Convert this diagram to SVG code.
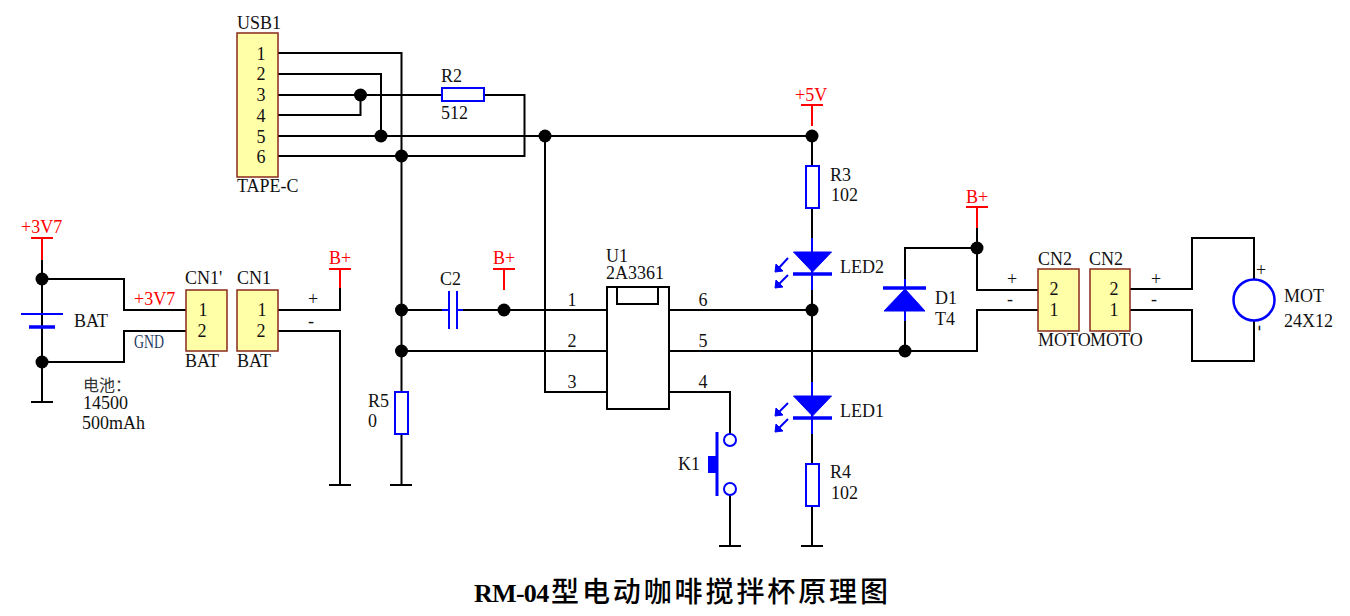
<svg xmlns="http://www.w3.org/2000/svg" width="1350" height="616" viewBox="0 0 1350 616">
<defs>
<style>
text{font-family:"Liberation Serif","Noto Sans CJK SC",serif;font-size:18px;fill:#111}
.c{text-anchor:middle}
.r{fill:#f00}
.w{fill:none;stroke:#000;stroke-width:2}
.b{fill:none;stroke:#00f;stroke-width:2}
.bb{fill:#00f;stroke:#00f;stroke-width:1}
.rl{fill:none;stroke:#f00;stroke-width:2}
.box{fill:#ffffa8;stroke:#8b2a1a;stroke-width:1.500}
.res{fill:#fff;stroke:#00f;stroke-width:2}
.u{fill:#fff;stroke:#000;stroke-width:2}
.s{font-size:18px}
.cn{font-family:"Noto Sans CJK SC",serif}
</style>
</defs>
<rect width="1350" height="616" fill="#fff"/>
<g id="connectors" class="w">
<path class="w" d="M278,53H401.500V485"/>
<path class="w" d="M278,74H381V136"/>
<path class="w" d="M278,95H442M484,95H524.500V156H278"/>
<path class="w" d="M278,115H360.500V95"/>
<path class="w" d="M278,136H812"/>
<path class="w" d="M545,136V392H607"/>
<path class="w" d="M401.500,310H449M457,310H607"/>
<path class="w" d="M401.500,351H607"/>
<path class="w" d="M669,310H812"/>
<path class="w" d="M669,351H977V310H1038"/>
<path class="w" d="M669,392H730V434"/>
<path class="w" d="M730,495V546"/>
<path class="w" d="M812,136V252M812,272V396M812,416V546"/>
<path class="w" d="M905,351V248H977"/>
<path class="w" d="M977,228V290H1038"/>
<path class="w" d="M1130,289H1192V238H1254V279"/>
<path class="w" d="M1130,310H1192V361H1254V321"/>
<path class="w" d="M42,260V402"/>
<path class="w" d="M42,279H124V310H186"/>
<path class="w" d="M42,362H124V331H186"/>
<path class="w" d="M278,310H340V288"/>
<path class="w" d="M278,331H340V485"/>
<path class="w" d="M31,402H53M329,485H351M390,485H412M719,546H741M801,546H823"/>
<path class="rl" d="M42,260V238M31,238H53M340,288V269M329,269H351M504,290V269M493,269H515M812,126V105M801,105H823M977,228V207M966,207H988"/>
<g fill="#000" stroke="none">
<circle cx="42" cy="279" r="6.500"/><circle cx="42" cy="362" r="6.500"/>
<circle cx="360.500" cy="95" r="6.500"/><circle cx="381" cy="136" r="6.500"/>
<circle cx="401.500" cy="156" r="6.500"/><circle cx="545" cy="136" r="6.500"/>
<circle cx="812" cy="136" r="6.500"/><circle cx="401.500" cy="310" r="6.500"/>
<circle cx="401.500" cy="351" r="6.500"/><circle cx="504" cy="310" r="6.500"/>
<circle cx="812" cy="310" r="6.500"/><circle cx="905" cy="351" r="6.500"/>
<circle cx="977" cy="248" r="6.500"/>
</g>
</g>
<g id="BAT"><path class="b" d="M21,314H63"/><path d="M29,327H55" fill="none" stroke="#00f" stroke-width="3.500"/>
<text x="74" y="327">BAT</text>
<text x="83" y="391" class="cn" style="font-size:16px;fill:#333">电池：</text>
<text x="83" y="409">14500</text><text x="82" y="429">500mAh</text></g>
<g id="net-labels">
<text x="21" y="233" class="r">+3V7</text>
<text x="134" y="305" class="r">+3V7</text>
<text x="134" y="348" textLength="30" lengthAdjust="spacingAndGlyphs" style="fill:#1f3a5f">GND</text>
<text x="329" y="264" class="r">B+</text>
<text x="493" y="264" class="r">B+</text>
<text x="795" y="101" class="r">+5V</text>
<text x="966" y="203" class="r">B+</text>
<text x="313" y="305" class="c s">+</text><text x="311" y="327" class="c s">-</text>
<text x="1012" y="285" class="c s">+</text><text x="1010" y="305" class="c s">-</text>
<text x="1156" y="285" class="c s">+</text><text x="1154" y="305" class="c s">-</text>
</g>
<g id="CN1p"><rect class="box" x="186" y="290" width="41" height="61"/>
<text x="185" y="284">CN1'</text><text x="203" y="316" class="c">1</text><text x="202" y="337" class="c">2</text><text x="185" y="367">BAT</text></g>
<g id="CN1"><rect class="box" x="237" y="290" width="41" height="61"/>
<text x="237" y="284">CN1</text><text x="262" y="316" class="c">1</text><text x="261" y="337" class="c">2</text><text x="237" y="367">BAT</text></g>
<g id="USB1"><rect class="box" x="237" y="33" width="41" height="144"/>
<text x="237" y="29">USB1</text>
<text x="261" y="60" class="c">1</text><text x="261" y="80" class="c">2</text><text x="261" y="101" class="c">3</text><text x="261" y="122" class="c">4</text><text x="261" y="143" class="c">5</text><text x="261" y="163" class="c">6</text>
<text x="237" y="192">TAPE-C</text></g>
<g id="R2"><rect class="res" x="442" y="88" width="42" height="13"/><text x="441" y="82">R2</text><text x="441" y="119">512</text></g>
<g id="C2"><path class="b" d="M442,310H449M457,310H463M449,291V329M457,291V329"/><text x="440" y="285">C2</text></g>
<g id="R5"><rect class="res" x="395" y="392" width="13" height="42"/><text x="368" y="407">R5</text><text x="368" y="427">0</text></g>
<g id="U1"><rect class="u" x="607" y="287" width="62" height="122"/><path class="w" d="M617,287V304H658V287"/>
<text x="606" y="262">U1</text><text x="606" y="279">2A3361</text>
<text x="572" y="306" class="c">1</text><text x="572" y="347" class="c">2</text><text x="572" y="388" class="c">3</text>
<text x="703" y="306" class="c">6</text><text x="703" y="347" class="c">5</text><text x="703" y="388" class="c">4</text></g>
<g id="K1"><circle class="b" cx="730" cy="440" r="6"/><circle class="b" cx="730" cy="489" r="6"/>
<path d="M717,432V496" fill="none" stroke="#00f" stroke-width="3"/><rect x="708" y="456" width="8" height="17" fill="#00f"/>
<text x="678" y="470">K1</text></g>
<g id="R3"><rect class="res" x="806" y="166" width="13" height="42"/><text x="830" y="181">R3</text><text x="831" y="201">102</text></g>
<g id="LED2"><path class="b" d="M812,238V290"/><path class="bb" d="M793.500,252H831.500L812.500,272Z"/><path d="M793,274H832" fill="none" stroke="#00f" stroke-width="3.500"/>
<path class="b" d="M788,258L777,270M788,275L777,286"/><path class="bb" d="M775,272L776,264L783,271ZM775,288L776,280L783,287Z"/>
<text x="840" y="273">LED2</text></g>
<g id="LED1"><path class="b" d="M812,382V434"/><path class="bb" d="M793.500,396H831.500L812.500,416Z"/><path d="M793,418H832" fill="none" stroke="#00f" stroke-width="3.500"/>
<path class="b" d="M788,403L777,414M788,419L777,430"/><path class="bb" d="M775,416L776,408L783,415ZM775,432L776,424L783,431Z"/>
<text x="840" y="417">LED1</text></g>
<g id="R4"><rect class="res" x="806" y="464" width="13" height="42"/><text x="830" y="478">R4</text><text x="831" y="499">102</text></g>
<g id="D1"><path class="b" d="M905,279V321"/><path class="bb" d="M905,289L925,311H884Z"/><path d="M883,288H926" fill="none" stroke="#00f" stroke-width="3.500"/>
<text x="935" y="304">D1</text><text x="935" y="325">T4</text></g>
<g id="CN2a"><rect class="box" x="1038" y="269" width="41" height="62"/><text x="1038" y="265">CN2</text><text x="1054" y="295" class="c">2</text><text x="1054" y="316" class="c">1</text><text x="1038" y="346">MOTO</text></g>
<g id="CN2b"><rect class="box" x="1090" y="269" width="40" height="62"/><text x="1089" y="265">CN2</text><text x="1114" y="295" class="c">2</text><text x="1114" y="316" class="c">1</text><text x="1090" y="346">MOTO</text></g>
<g id="MOT"><circle cx="1254" cy="300" r="20.500" fill="#fff" stroke="#00f" stroke-width="2.500"/>
<text x="1261" y="276" class="c s">+</text><text x="1259" y="332" class="c s" transform="rotate(90 1259 328)">-</text>
<text x="1284" y="302">MOT</text><text x="1284" y="327">24X12</text></g>
<g id="title"><text x="474" y="602" style="font-size:26px;font-weight:bold;letter-spacing:-.7px;fill:#000">RM-04</text>
<text x="551" y="602" class="cn" style="font-size:28px;font-weight:500;letter-spacing:2.900px;fill:#000">型电动咖啡搅拌杯原理图</text></g>
</svg>
